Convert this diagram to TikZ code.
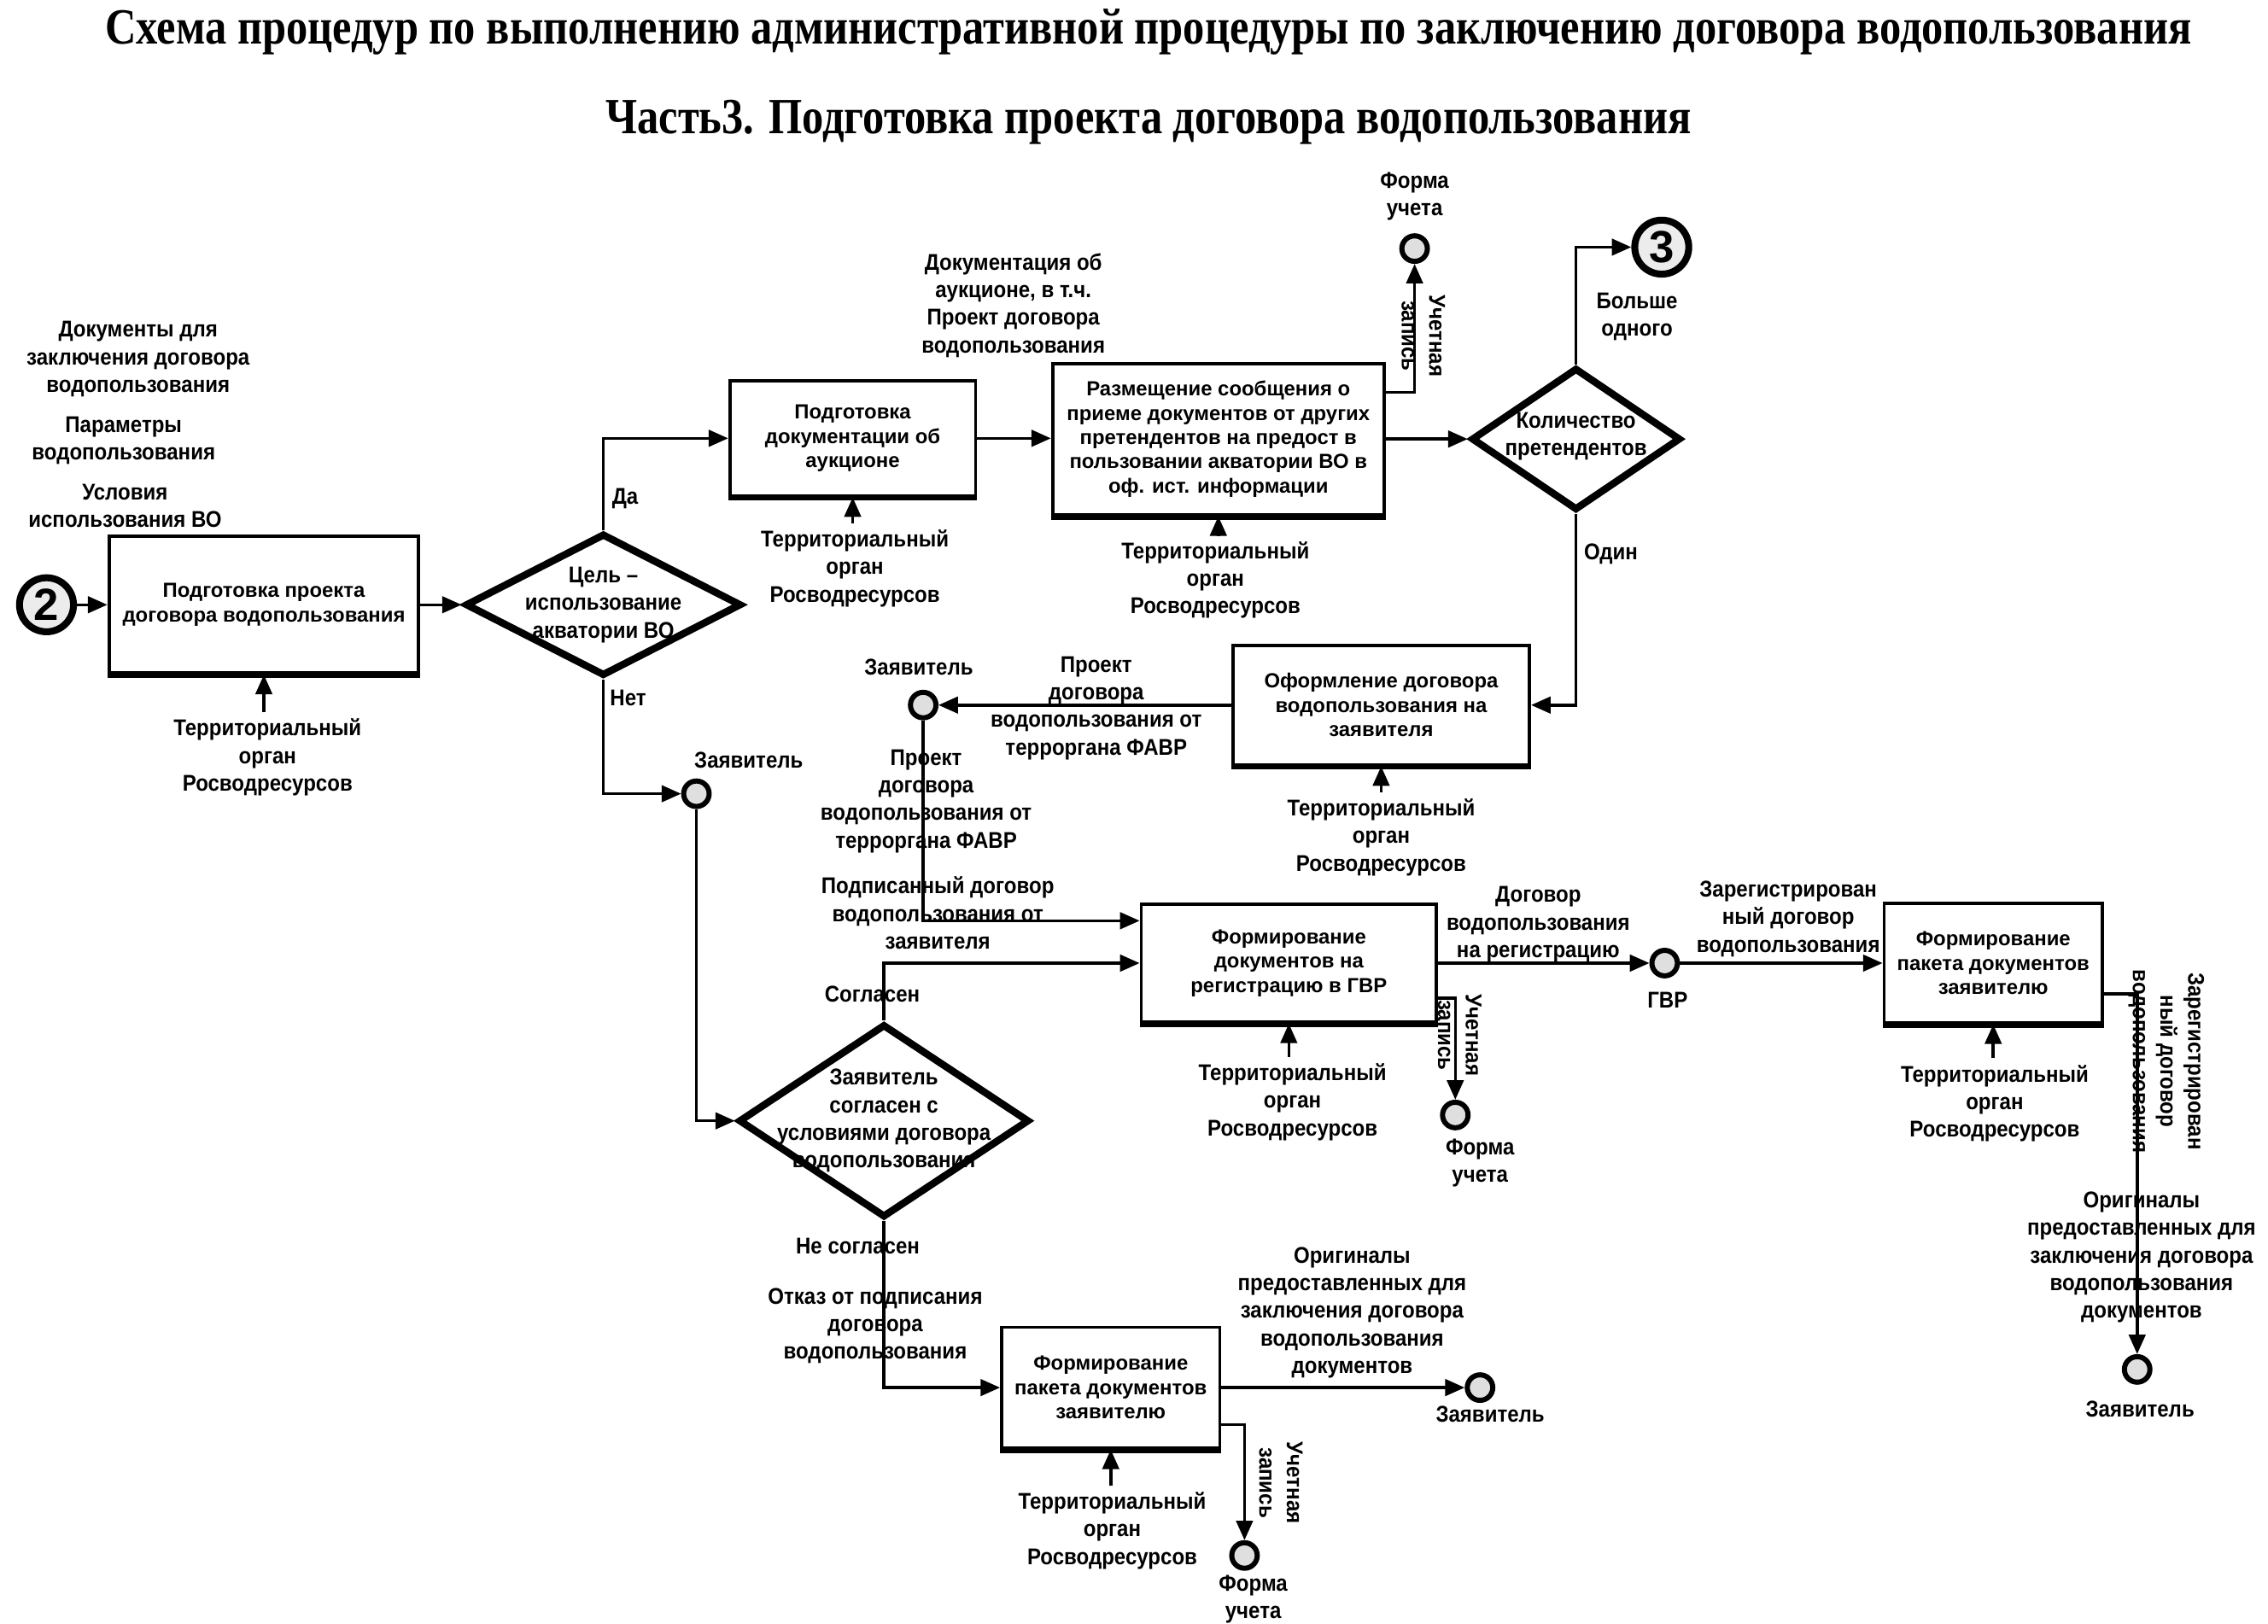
\documentclass[tikz,border=0pt]{standalone}
\usepackage{fontspec}
\setmainfont{Liberation Sans}
\newfontfamily\lblfont[FakeStretch=0.9]{Liberation Sans}
\newfontfamily\ttlfont[FakeStretch=0.85]{Liberation Serif}
\usetikzlibrary{arrows.meta,shapes.geometric,calc}
\def\du{0.4844pt}
\begin{document}
\begin{tikzpicture}[x=0.4844pt,y=-0.4844pt,
 box/.style={draw, line width=1.1pt, fill=white, inner sep=1pt, align=center, font=\bfseries\fontsize{6.8}{8.1}\selectfont},
 lbl/.style={inner sep=0pt, align=center, font=\lblfont\bfseries\fontsize{7.6}{9.2}\selectfont},
 dec/.style={draw, diamond, line width=2.4pt, inner sep=0pt},
 conn/.style={line width=1pt, -{Triangle[length=6.5pt,width=5.5pt]}},
 ev/.style={draw, circle, line width=1.7pt, fill=gray!25, minimum size=8.5pt, inner sep=0pt},
 bigev/.style={draw, circle, line width=2.3pt, fill=gray!15, minimum size=18pt, inner sep=0pt, font=\bfseries\fontsize{15}{15}\selectfont},
 ttl/.style={inner sep=0pt, font=\ttlfont\bfseries\fontsize{16.9}{20}\selectfont},
 rot/.style={lbl, rotate=-90},
 shadowline/.style={line width=2.2pt}
]
\useasboundingbox (0,0) rectangle (1560,1117.1);

% titles
\node[ttl] (t1) at (790,22) {Схема процедур по выполнению административной процедуры по заключению договора водопользования};
\node[ttl] (t2) at (790,84) {Часть3. Подготовка проекта договора водопользования};

% left input labels
\node[lbl] (in1) at (95,247) {Документы для\\заключения договора\\водопользования};
\node[lbl] (in2) at (85,303) {Параметры\\водопользования};
\node[lbl] (in3) at (86,348) {Условия\\использования ВО};

% boxes
\node[box, minimum width=213*\du, minimum height=94*\du] (B1) at (181.5,416) {Подготовка проекта\\договора водопользования};
\node[box, minimum width=169*\du, minimum height=79*\du] (B2) at (586.5,301.5) {Подготовка\\документации об\\аукционе};
\node[box, minimum width=228*\du, minimum height=104*\du] (B3) at (838,302) {Размещение сообщения о\\приеме документов от других\\претендентов на предост в\\пользовании акватории ВО в\\оф. ист. информации};
\node[box, minimum width=204*\du, minimum height=82*\du] (B4) at (950,485) {Оформление договора\\водопользования на\\заявителя};
\node[box, minimum width=203*\du, minimum height=81*\du] (B5) at (886.5,662.5) {Формирование\\документов на\\регистрацию в ГВР};
\node[box, minimum width=150*\du, minimum height=83*\du] (B6) at (764,954.5) {Формирование\\пакета документов\\заявителю};
\node[box, minimum width=150*\du, minimum height=82*\du] (B7) at (1371,662.5) {Формирование\\пакета документов\\заявителю};
\foreach \b in {B1,B2,B3,B4,B5,B6,B7}{\draw[shadowline] (\b.south west) -- (\b.south east);}

% decisions
\node[dec, minimum width=190*\du, minimum height=98*\du] (D1) at (415,416) {};
\node[lbl] (D1t) at (415,416) {Цель –\\использование\\акватории ВО};
\node[dec, minimum width=144*\du, minimum height=98*\du] (D2) at (1084,302) {};
\node[lbl] (D2t) at (1084,300) {Количество\\претендентов};
\node[dec, minimum width=200*\du, minimum height=133*\du] (D3) at (608,771) {};
\node[lbl] (D3t) at (608,771) {Заявитель\\согласен с\\условиями договора\\водопользования};

% events
\node[bigev] (C2) at (32,416) {2};
\node[bigev] (C3) at (1143,170) {3};
\node[ev] (Z1) at (479,546) {};
\node[ev] (Z2) at (635,485) {};
\node[ev] (Z3) at (1018,954.5) {};
\node[ev] (Z4) at (1470,942) {};
\node[ev] (FU1) at (973,171) {};
\node[ev] (FU2) at (1001,767) {};
\node[ev] (FU3) at (856,1070) {};
\node[ev] (G) at (1145,662.5) {};

% mechanism labels
\node[lbl] (s1) at (184,521) {Территориальный\\орган\\Росводресурсов};
\node[lbl] (s2) at (588,391) {Территориальный\\орган\\Росводресурсов};
\node[lbl] (s3) at (836,399) {Территориальный\\орган\\Росводресурсов};
\node[lbl] (s4) at (950,576) {Территориальный\\орган\\Росводресурсов};
\node[lbl] (s5) at (889,758) {Территориальный\\орган\\Росводресурсов};
\node[lbl] (s6) at (765,1053) {Территориальный\\орган\\Росводресурсов};
\node[lbl] (s7) at (1372,759) {Территориальный\\орган\\Росводресурсов};
\foreach \b/\s in {B1/s1,B2/s2,B3/s3,B4/s4,B5/s5,B6/s6,B7/s7}{\draw[conn] ([yshift=2pt]\b.south |- \s.north) -- (\b.south);}

% other labels
\node[lbl] (l_da) at (430,343) {Да};
\node[lbl] (l_net) at (432,480) {Нет};
\node[lbl] (l_z1) at (515,523) {Заявитель};
\node[lbl] (l_doc) at (697,210) {Документация об\\аукционе, в т.ч.\\Проект договора\\водопользования};
\node[lbl] (l_fu1) at (973,135) {Форма\\учета};
\node[rot] (r1) at (979,231) {Учетная\\запись};
\node[lbl] (l_more) at (1126,218) {Больше\\одного};
\node[lbl] (l_one) at (1108,381) {Один};
\node[lbl] (l_z2) at (632,459) {Заявитель};
\node[lbl] (l_pr1) at (754,487) {Проект\\договора\\водопользования от\\терроргана ФАВР};
\node[lbl] (l_pr2) at (637,551) {Проект\\договора\\водопользования от\\терроргана ФАВР};
\node[lbl] (l_sig) at (645,628) {Подписанный договор\\водопользования от\\заявителя};
\node[lbl] (l_agree) at (600,684) {Согласен};
\node[lbl] (l_dis) at (590,857) {Не согласен};
\node[lbl] (l_ref) at (602,912) {Отказ от подписания\\договора\\водопользования};
\node[lbl] (l_orig1) at (930,903) {Оригиналы\\предоставленных для\\заключения договора\\водопользования\\документов};
\node[lbl] (l_z3) at (1025,973) {Заявитель};
\node[rot] (r3) at (881,1020) {Учетная\\запись};
\node[lbl] (l_fu3) at (862,1100) {Форма\\учета};
\node[lbl] (l_reg) at (1058,636) {Договор\\водопользования\\на регистрацию};
\node[lbl] (l_gvr) at (1147,688) {ГВР};
\node[rot] (r2) at (1004,712) {Учетная\\запись};
\node[lbl] (l_fu2) at (1018,800) {Форма\\учета};
\node[lbl] (l_regd) at (1230,632) {Зарегистрирован\\ный договор\\водопользования};
\node[rot] (r4) at (1490,730) {Зарегистрирован\\ный договор\\водопользования};
\node[lbl] (l_orig2) at (1473,865) {Оригиналы\\предоставленных для\\заключения договора\\водопользования\\документов};
\node[lbl] (l_z4) at (1472,969) {Заявитель};

% helper coordinates
\coordinate (f1) at (973,270);
\coordinate (b5a) at ($(B5.north west)!0.15!(B5.south west)$);
\coordinate (b5r) at ($(B5.north east)!0.79!(B5.south east)$);
\coordinate (b6r) at ($(B6.north east)!0.8!(B6.south east)$);
\coordinate (b7r) at ($(B7.north east)!0.75!(B7.south east)$);

% connectors
\draw[conn] (C2.east) -- (C2.east -| B1.west);
\draw[conn] (B1.east) -- (D1.west);
\draw[conn] (D1.north) |- (B2.west);
\draw[conn] (D1.south) |- (Z1.west);
\draw[conn] (B2.east) -- (B2.east -| B3.west);
\draw[conn] (B3.east |- f1) -- (f1) -- (FU1.south);
\draw[conn] (B3.east) -- (D2.west);
\draw[conn] (D2.north) |- (C3.west);
\draw[conn] (D2.south) |- (B4.east);
\draw[conn] (B4.west) -- (Z2.east);
\draw[conn] (Z2.south) |- (b5a);
\draw[conn] (D3.north) |- (B5.west);
\draw[conn] (Z1.south) |- (D3.west);
\draw[conn] (D3.south) |- (B6.west);
\draw[conn] (B6.east) -- (Z3.west);
\draw[conn] (b6r) -| (FU3.north);
\draw[conn] (B5.east) -- (G.west);
\draw[conn] (b5r) -| (FU2.north);
\draw[conn] (G.east) -- (B7.west);
\draw[conn] (b7r) -| (Z4.north);
\end{tikzpicture}
\end{document}
